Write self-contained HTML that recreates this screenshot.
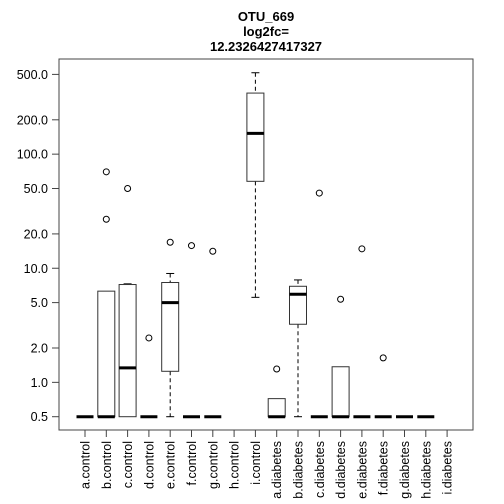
<!DOCTYPE html>
<html><head><meta charset="utf-8"><style>
body{margin:0;background:#fff}
svg{display:block;font-family:"Liberation Sans",Arial,sans-serif}
</style></head><body>
<svg id="chart" width="504" height="504">
<text x="266" y="21" text-anchor="middle" font-size="13" font-weight="bold">OTU_669</text>
<text x="266" y="36" text-anchor="middle" font-size="13" font-weight="bold">log2fc=</text>
<text x="266" y="51" text-anchor="middle" font-size="13" font-weight="bold">12.2326427417327</text>
<rect x="59" y="59" width="414" height="371" fill="none" stroke="#444" stroke-width="1"/>
<g id="marks"></g>
</svg>
<script>
const categories=["a.control","b.control","c.control","d.control","e.control","f.control","g.control","h.control","i.control","a.diabetes","b.diabetes","c.diabetes","d.diabetes","e.diabetes","f.diabetes","g.diabetes","h.diabetes","i.diabetes"];
const whiskerLow=[0.5,0.5,0.5,0.5,0.5,0.5,0.5,null,5.56,0.5,0.5,0.5,0.5,0.5,0.5,0.5,0.5,null];
const q1=[0.5,0.5,0.5,0.5,1.25,0.5,0.5,null,57.8,0.5,3.23,0.5,0.5,0.5,0.5,0.5,0.5,null];
const medians=[0.5,0.5,1.34,0.5,5.0,0.5,0.5,null,152,0.5,5.92,0.5,0.5,0.5,0.5,0.5,0.5,null];
const q3=[0.5,6.3,7.2,0.5,7.5,0.5,0.5,null,343,0.72,6.95,0.5,1.37,0.5,0.5,0.5,0.5,null];
const whiskerHigh=[0.5,6.3,7.3,0.5,9.0,0.5,0.5,null,517,0.72,7.9,0.5,1.37,0.5,0.5,0.5,0.5,null];
const outliers=[[],[70,26.9],[50],[2.45],[16.9],[15.8],[14.1],[],[],[1.31],[],[45.6],[5.35],[14.8],[1.64],[],[],[]];
const yTicks=[0.5,1,2,5,10,20,50,100,200,500];
const yTickLabels=["0.5","1.0","2.0","5.0","10.0","20.0","50.0","100.0","200.0","500.0"];

const NS="http://www.w3.org/2000/svg";
const svg=document.getElementById('chart');
const g=document.getElementById('marks');
const yScale=v=>416.7-114.1*Math.log10(v/0.5);
const xScale=i=>85+i*21.3;
function mk(tag,attrs,parent){const e=document.createElementNS(NS,tag);for(const k in attrs)e.setAttribute(k,attrs[k]);(parent||g).appendChild(e);return e;}

// y axis
let ax=mk('line',{x1:59,x2:59,y1:yScale(0.5),y2:yScale(500),stroke:'#444'});


yTicks.forEach((t,i)=>{
  const y=yScale(t);
  const tk=mk('line',{x1:52,x2:59,y1:y,y2:y,stroke:'#444'});
  
  
  const tx=mk('text',{x:48,y:y+4.5,'text-anchor':'end','font-size':'12.5',fill:'#000'});
  tx.textContent=yTickLabels[i];
  
  
});
// x axis
let xa=mk('line',{x1:xScale(0),x2:xScale(categories.length-1),y1:430,y2:430,stroke:'#444'});


const hw=8.5;
categories.forEach((c,i)=>{
  const x=xScale(i);
  const tk=mk('line',{x1:x,x2:x,y1:430,y2:437,stroke:'#444'});
  
  
  const tx=mk('text',{x:0,y:0,'text-anchor':'end','font-size':'12.5',transform:`translate(${x+4.5},441) rotate(-90)`});
  tx.textContent=c;
  
  
  if(medians[i]!==null){
    const bg=mk('g',{});
    
    
    const yl=yScale(whiskerLow[i]),y1=yScale(q1[i]),ym=yScale(medians[i]),y3=yScale(q3[i]),yh=yScale(whiskerHigh[i]);
    if(y1-yl<-0.5){mk('line',{x1:x,x2:x,y1:y1,y2:yl,stroke:'#000','stroke-dasharray':'4,3'},bg);mk('line',{x1:x-4,x2:x+4,y1:yl,y2:yl,stroke:'#000'},bg);}
    if(yh<y3-0.5){mk('line',{x1:x,x2:x,y1:yh,y2:y3,stroke:'#000','stroke-dasharray':'4,3'},bg);mk('line',{x1:x-4,x2:x+4,y1:yh,y2:yh,stroke:'#000'},bg);}
    mk('rect',{x:x-hw,y:y3,width:2*hw,height:Math.max(0,y1-y3),fill:'none',stroke:'#333'},bg);
    mk('line',{x1:x-hw,x2:x+hw,y1:ym,y2:ym,stroke:'#000','stroke-width':3},bg);
    outliers[i].forEach(v=>{
      const o=mk('circle',{cx:x,cy:yScale(v),r:3,fill:'none',stroke:'#000'},bg);
      
      
    });
  }
});
</script>
</body></html>
